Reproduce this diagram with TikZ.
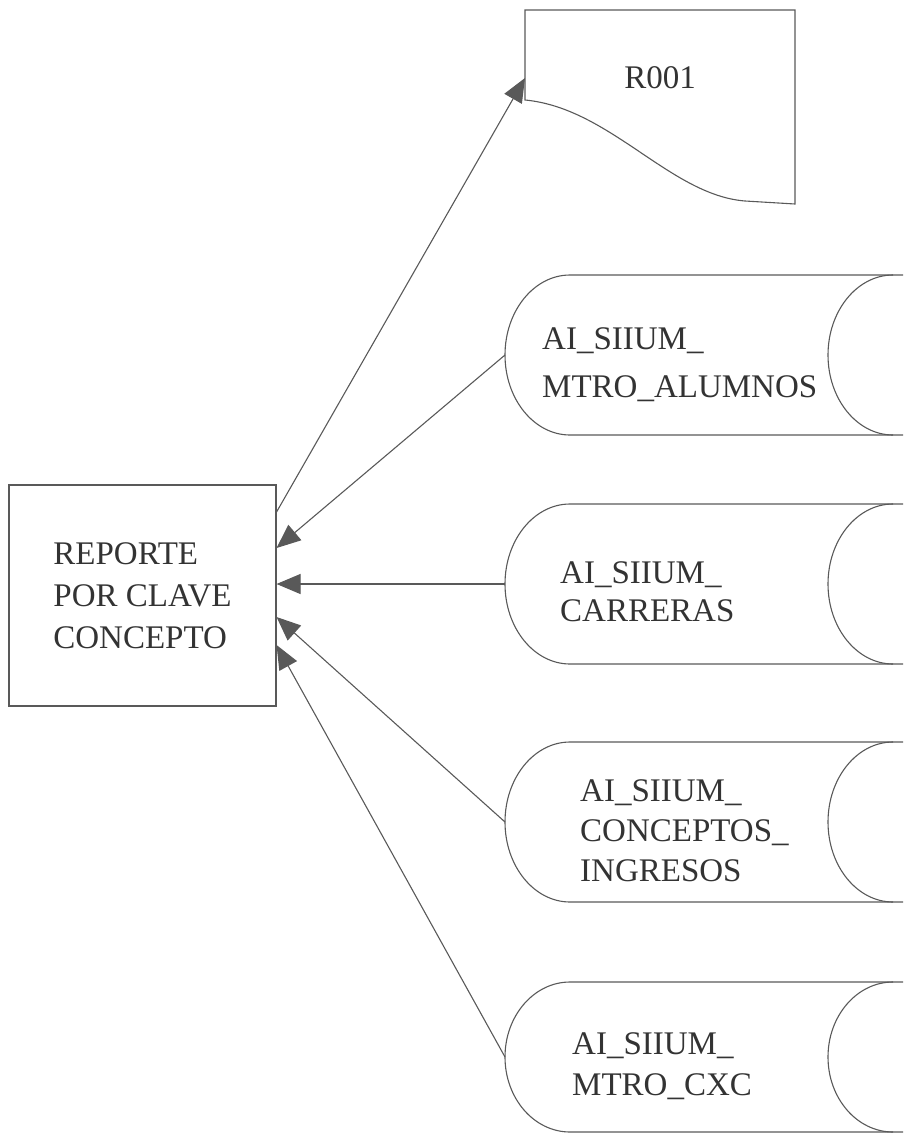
\documentclass[tikz,border=0pt]{standalone}
\usepackage{fontspec}
\setmainfont{Liberation Serif}
\usetikzlibrary{arrows.meta,positioning}

\tikzset{
    ink/.style={draw=black!65, line width=1.1pt},
    flow/.style={ink, -{Triangle[length=24pt,width=20pt]}},
    storetext/.style={align=left, inner sep=0, anchor=north west, text=black!80,
        font=\fontsize{33}{#1}\selectfont},
    storetext/.default=42
}

\begin{document}
\begin{tikzpicture}[x=1pt, y=-1pt]
\useasboundingbox (0,0) rectangle (903,1135);
\clip (0,0) rectangle (903,1135);

% report and printed output
\node[ink, minimum width=267, minimum height=221, align=left, text=black!80,
    font=\fontsize{33}{42}\selectfont] (rep) at (142.5,595.5) {REPORTE\\POR CLAVE\\CONCEPTO};
\node[minimum width=270, minimum height=136, inner sep=0, outer sep=0, text=black!80,
    font=\fontsize{33}{40}\selectfont] (r001) at (660,78) {R001};
\draw[ink] (r001.north west) -- (r001.north east) -- ++(0,194) -- ++(-50,-3)
    .. controls (670,195) and (610,108) .. ([yshift=-22pt]r001.west) -- cycle;

% files (lying cylinders, cut by the page edge)
\foreach \nm/\cy/\ry in {alum/355/80, carr/584/80, conc/822/80, cxc/1057/75} {
    \draw[ink] (960,\cy-\ry) -- (570,\cy-\ry)
        arc[start angle=90, end angle=270, x radius=65pt, y radius=\ry pt] -- (960,\cy+\ry);
    \draw[ink] (893,\cy-\ry) arc[start angle=90, end angle=270, x radius=65pt, y radius=\ry pt];
    \coordinate (\nm) at (505,\cy);
}

\node[storetext=48] (alumtxt) at (542,327) {AI\_SIIUM\_\\MTRO\_ALUMNOS};
\node[storetext=38] (carrtxt) at (560,561) {AI\_SIIUM\_\\CARRERAS};
\node[storetext=40] (conctxt) at (580,779) {AI\_SIIUM\_\\CONCEPTOS\_\\INGRESOS};
\node[storetext=41] (cxctxt) at (572,1032) {AI\_SIIUM\_\\MTRO\_CXC};

% connectors
\draw[flow] ([yshift=83.5pt]rep.east) -- (r001.west);
\draw[flow] (alum) -- ([yshift=47.5pt]rep.east);
\draw[flow] (carr) -- ([yshift=11.5pt]rep.east);
\draw[flow] (conc) -- ([yshift=-21.5pt]rep.east);
\draw[flow] (cxc) -- ([yshift=-49.5pt]rep.east);

\end{tikzpicture}
\end{document}
